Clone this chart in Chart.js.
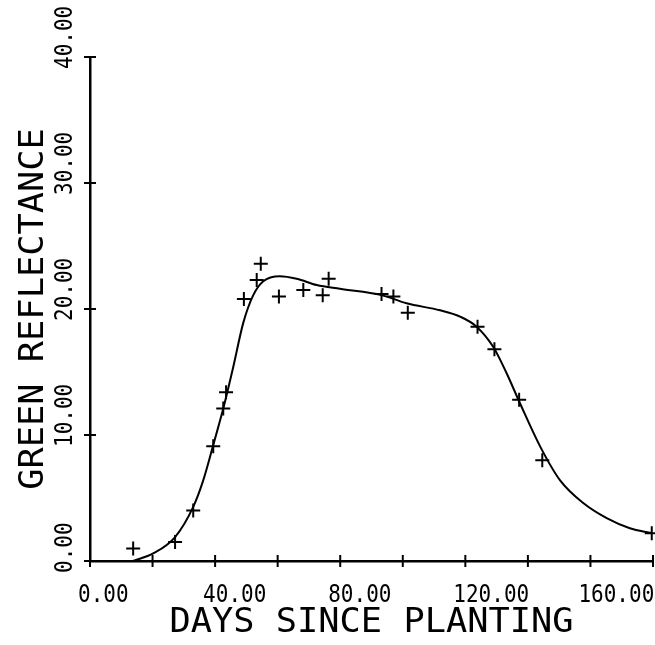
<!DOCTYPE html>
<html>
<head>
<meta charset="utf-8">
<script src="https://cdn.jsdelivr.net/npm/chart.js@4/dist/chart.umd.min.js"></script>
<style>
  html, body { margin: 0; padding: 0; background: #fff; }
  #wrap { width: 655px; height: 645px; }
</style>
</head>
<body>
<div id="wrap"><canvas id="reflChart" width="655" height="645"></canvas></div>
<script>
// observed points (days, green reflectance)
const obsDays   = [13.8, 27.2, 33.0, 39.4, 42.6, 43.5, 49.2, 53.3, 54.6, 60.4, 68.2, 74.4, 76.3, 93.2, 97.0, 101.6, 123.9, 129.3, 137.2, 144.6, 179.6];
const obsValues = [1.0, 1.5, 4.0, 9.1, 12.1, 13.4, 20.8, 22.3, 23.6, 21.0, 21.5, 21.1, 22.4, 21.2, 21.0, 19.7, 18.6, 16.8, 12.8, 8.0, 2.2];

// fitted curve
const curveDays   = [13.8, 20.2, 27.2, 33.0, 36.2, 39.4, 42.6, 45.8, 49.0, 52.2, 55.4, 60.7, 66.1, 72.5, 79.9, 93.2, 101.2, 111.9, 118.3, 123.6, 128.9, 133.2, 137.5, 143.9, 150.3, 157.7, 165.2, 172.6, 179.6];
const curveValues = [0.0, 0.6, 1.9, 4.3, 6.4, 9.2, 12.1, 15.4, 18.9, 21.1, 22.2, 22.6, 22.4, 21.9, 21.6, 21.1, 20.45, 19.9, 19.4, 18.6, 17.0, 14.9, 12.5, 9.1, 6.4, 4.6, 3.4, 2.6, 2.2];

const xTickValues = [0, 20, 40, 60, 80, 100, 120, 140, 160, 180];
const xLabelValues = [0, 40, 80, 120, 160];
const xTickLabels = ["0.00", "40.00", "80.00", "120.00", "160.00"];
const yTickValues = [0, 10, 20, 30, 40];
const yTickLabels = ["0.00", "10.00", "20.00", "30.00", "40.00"];

const xTitle = "DAYS SINCE PLANTING";
const yTitle = "GREEN REFLECTANCE";

const FONT = '"DejaVu Sans Mono", monospace';

function drawText(ctx, text, x, y, rot, size, sx, align) {
  ctx.save();
  ctx.translate(x, y);
  ctx.rotate(rot);
  ctx.scale(sx, 1);
  ctx.font = size + "px " + FONT;
  ctx.textAlign = align;
  ctx.textBaseline = "alphabetic";
  ctx.fillStyle = "#000";
  ctx.fillText(text, 0, 0);
  ctx.restore();
}

const plotterAxes = {
  id: "plotterAxes",
  afterDraw(chart) {
    const ctx = chart.ctx;
    const xs = chart.scales.x, ys = chart.scales.y;
    const x0 = xs.getPixelForValue(0);
    const y0 = ys.getPixelForValue(0);

    ctx.save();
    ctx.strokeStyle = "#000";
    ctx.lineWidth = 2;
    xTickValues.forEach(v => {
      const px = xs.getPixelForValue(v);
      ctx.beginPath();
      ctx.moveTo(px, y0 - 6);
      ctx.lineTo(px, y0 + 6);
      ctx.stroke();
    });
    yTickValues.forEach(v => {
      const py = ys.getPixelForValue(v);
      ctx.beginPath();
      ctx.moveTo(x0 - 6, py);
      ctx.lineTo(x0 + 6, py);
      ctx.stroke();
    });
    ctx.restore();

    // tick labels
    xLabelValues.forEach((v, i) => {
      drawText(ctx, xTickLabels[i], xs.getPixelForValue(v) - 12, y0 + 41, 0, 25, 0.84, "left");
    });
    yTickValues.forEach((v, i) => {
      drawText(ctx, yTickLabels[i], x0 - 18, ys.getPixelForValue(v) + 12, -Math.PI / 2, 25, 0.84, "left");
    });

    // axis titles
    const cx = (chart.chartArea.left + chart.chartArea.right) / 2;
    const cy = (chart.chartArea.top + chart.chartArea.bottom) / 2;
    drawText(ctx, xTitle, cx, y0 + 71, 0, 33, 1.07, "center");
    drawText(ctx, yTitle, x0 - 47, cy, -Math.PI / 2, 33, 1.07, "center");
  }
};

new Chart(document.getElementById("reflChart").getContext("2d"), {
  type: "scatter",
  data: {
    datasets: [
      {
        label: "fit",
        type: "line",
        data: curveDays.map((d, i) => ({ x: d, y: curveValues[i] })),
        borderColor: "#000",
        borderWidth: 2,
        pointRadius: 0,
        fill: false,
        cubicInterpolationMode: "monotone"
      },
      {
        label: "observed",
        data: obsDays.map((d, i) => ({ x: d, y: obsValues[i] })),
        pointStyle: "cross",
        pointRadius: 7,
        borderColor: "#000",
        borderWidth: 2,
        clip: false
      }
    ]
  },
  options: {
    responsive: false,
    animation: false,
    layout: { autoPadding: false, padding: { left: 0, right: 2, top: 57, bottom: 0 } },
    plugins: { legend: { display: false }, tooltip: { enabled: false } },
    scales: {
      x: {
        type: "linear", min: 0, max: 180,
        grid: { display: false },
        border: { display: true, color: "#000", width: 2.5 },
        ticks: { display: false },
        afterFit: s => { s.height = 84; }
      },
      y: {
        type: "linear", min: 0, max: 40,
        grid: { display: false },
        border: { display: true, color: "#000", width: 2.5 },
        ticks: { display: false },
        afterFit: s => { s.width = 90; }
      }
    }
  },
  plugins: [plotterAxes]
});
</script>
</body>
</html>
